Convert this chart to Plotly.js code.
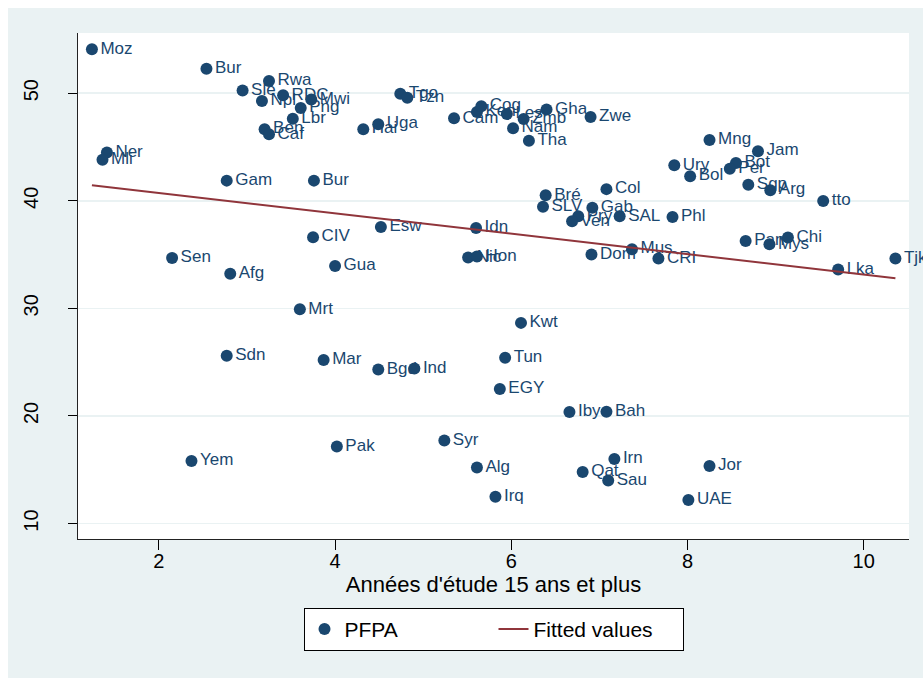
<!DOCTYPE html>
<html>
<head>
<meta charset="utf-8">
<script src="https://cdn.plot.ly/plotly-3.0.1.min.js"></script>
<style>
  html, body { margin: 0; padding: 0; background: #ffffff; }
  #chart { position: absolute; left: 8px; top: 8px; width: 915px; height: 670px; }
</style>
</head>
<body>
<div id="chart"></div>
<script>
// Country codes (labels)
const countries = ["Moz","Bur","Rwa","Sle","Npl","RDC","Mwi","Png","Lbr","Ben","Caf","Hai","Uga","Tgo","Tzn","Cam","Ken","Cog","Les","Zmb","Nam","Tha","Gha","Zwe","Mng","Jam","Ury","Bot","Per","Bol","Sgp","Arg","tto","Phl","Pan","Mys","Chi","Lka","Tjk","CRI","Mus","Dom","Bré","Col","SLV","Gab","Pry","Ven","SAL","Idn","Nic","Hon","Ner","Mli","Gam","Bur","Esw","CIV","Sen","Afg","Gua","Mrt","Kwt","Sdn","Mar","Bgd","Ind","Tun","EGY","Yem","Pak","Syr","Alg","Irq","Iby","Bah","Irn","Qat","Sau","Jor","UAE"];
// Années d'étude 15 ans et plus
const educYears = [1.24,2.54,3.25,2.95,3.17,3.41,3.73,3.61,3.52,3.20,3.25,4.32,4.49,4.74,4.82,5.35,5.61,5.66,5.95,6.14,6.02,6.20,6.40,6.90,8.25,8.80,7.85,8.55,8.48,8.03,8.69,8.94,9.54,7.83,8.66,8.93,9.14,9.71,10.36,7.67,7.37,6.91,6.39,7.08,6.36,6.92,6.76,6.69,7.23,5.60,5.51,5.61,1.41,1.36,2.77,3.76,4.52,3.75,2.15,2.81,4.00,3.60,6.11,2.77,3.87,4.49,4.90,5.93,5.87,2.37,4.02,5.24,5.61,5.82,6.66,7.08,7.17,6.81,7.10,8.25,8.01];
// PFPA
const pfpa = [54.08,52.26,51.12,50.24,49.26,49.80,49.42,48.63,47.63,46.65,46.18,46.65,47.12,49.95,49.57,47.66,48.25,48.79,48.06,47.59,46.74,45.58,48.48,47.78,45.65,44.61,43.29,43.50,42.97,42.28,41.49,40.98,39.98,38.50,36.26,35.95,36.58,33.62,34.63,34.63,35.50,35.00,40.51,41.08,39.44,39.35,38.56,38.09,38.56,37.46,34.72,34.82,44.48,43.81,41.87,41.87,37.55,36.61,34.69,33.21,33.94,29.91,28.65,25.59,25.21,24.31,24.40,25.40,22.51,15.81,17.16,17.72,15.20,12.50,20.37,20.40,16.00,14.80,14.01,15.34,12.18];
// Fitted values (end points)
const fitX = [1.24, 10.36];
const fitY = [41.45, 32.80];
// Axis ticks
const xTicks = [2, 4, 6, 8, 10];
const yTicks = [10, 20, 30, 40, 50];

const navy = "#1a476f";
const maroon = "#90353b";
const font = "Liberation Sans, Arial, sans-serif";

const traces = [
  {
    type: "scatter",
    mode: "markers+text",
    name: "PFPA",
    x: educYears,
    y: pfpa,
    text: countries,
    textposition: "middle right",
    textfont: { family: font, size: 17, color: navy },
    marker: { color: navy, size: 12, line: { width: 0 } },
    cliponaxis: false,
    hoverinfo: "skip"
  },
  {
    type: "scatter",
    mode: "lines",
    name: "Fitted values",
    x: fitX,
    y: fitY,
    line: { color: maroon, width: 2 },
    hoverinfo: "skip"
  }
];

const layout = {
  width: 915,
  height: 670,
  paper_bgcolor: "#eaf2f3",
  plot_bgcolor: "#ffffff",
  margin: { l: 70, r: 14, t: 25, b: 139 },
  font: { family: font, color: "#000000" },
  showlegend: true,
  legend: {
    orientation: "h",
    x: 0.5, xanchor: "center",
    y: -0.136, yanchor: "top",
    bgcolor: "#ffffff",
    bordercolor: "#000000",
    borderwidth: 1,
    font: { family: font, size: 21, color: "#000000" },
    itemwidth: 30,
    entrywidth: 144
  },
  xaxis: {
    range: [1.082, 10.514],
    tickvals: xTicks,
    ticktext: xTicks.map(String),
    ticks: "outside",
    ticklen: 10,
    tickcolor: "#000000",
    ticklabelstandoff: -6,
    tickfont: { family: font, size: 20, color: "#000000" },
    showgrid: false,
    zeroline: false,
    showline: true,
    linecolor: "#222222",
    linewidth: 1.2,
    title: { text: "Années d'étude 15 ans et plus", font: { family: font, size: 22, color: "#000000" }, standoff: 0 }
  },
  yaxis: {
    range: [8.565, 55.59],
    tickvals: yTicks,
    ticktext: yTicks.map(String),
    ticks: "outside",
    ticklen: 9,
    tickcolor: "#000000",
    tickangle: -90,
    ticklabelstandoff: 22,
    tickfont: { family: font, size: 20, color: "#000000" },
    showgrid: true,
    gridcolor: "#eaf2f3",
    gridwidth: 1.5,
    zeroline: false,
    showline: true,
    linecolor: "#222222",
    linewidth: 1.2
  }
};

Plotly.newPlot("chart", traces, layout, { staticPlot: true, displayModeBar: false });
</script>
</body>
</html>
